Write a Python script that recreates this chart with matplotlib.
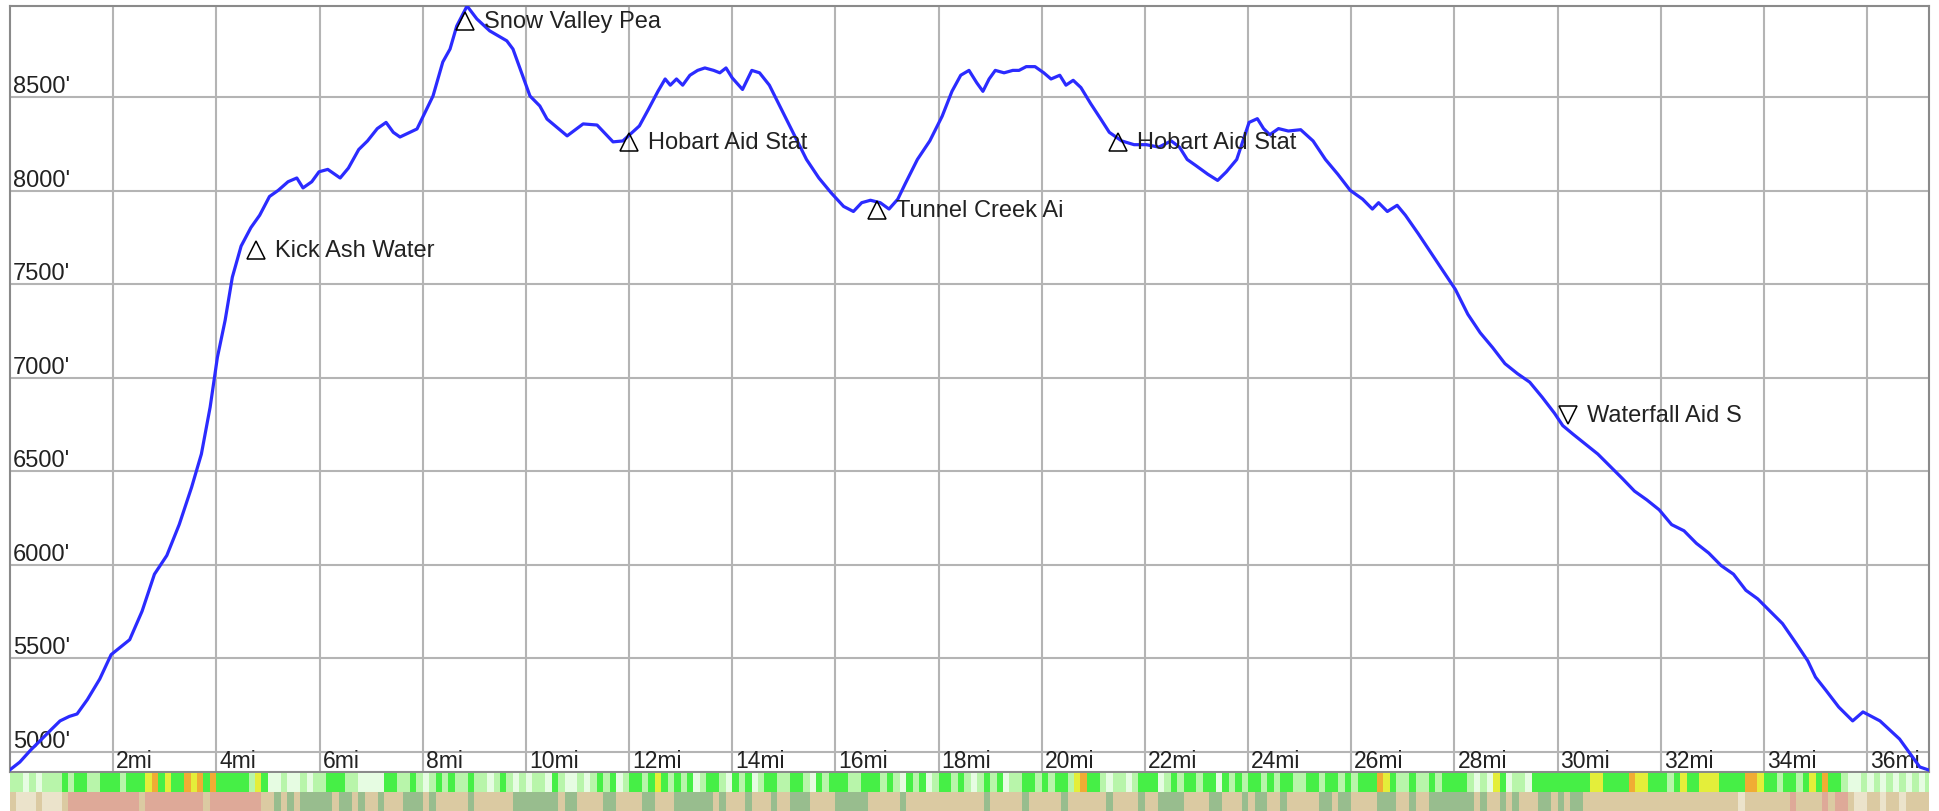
import matplotlib

matplotlib.use("Agg")
import matplotlib.pyplot as plt
from matplotlib.colors import ListedColormap

plt.rcParams["font.family"] = ["Liberation Sans", "DejaVu Sans"]

# elevation profile (miles, feet)
miles = [0.0, 0.19, 0.4, 0.58, 0.8, 0.97, 1.15, 1.3, 1.5, 1.74, 1.96, 2.32, 2.56, 2.8,
         3.04, 3.28, 3.52, 3.71, 3.88, 4.02, 4.17, 4.31, 4.48, 4.67, 4.84, 5.03, 5.2,
         5.39, 5.56, 5.68, 5.85, 5.99, 6.16, 6.4, 6.56, 6.76, 6.93, 7.12, 7.29, 7.43,
         7.56, 7.89, 8.2, 8.39, 8.53, 8.66, 8.86, 9.05, 9.3, 9.63, 9.75, 10.08, 10.27,
         10.41, 10.8, 11.11, 11.38, 11.69, 11.88, 12.2, 12.37, 12.56, 12.7, 12.8, 12.92,
         13.04, 13.18, 13.33, 13.47, 13.64, 13.76, 13.88, 14.0, 14.2, 14.38, 14.53,
         14.72, 14.96, 15.2, 15.44, 15.68, 15.92, 16.16, 16.35, 16.51, 16.68, 16.87,
         17.04, 17.21, 17.35, 17.59, 17.83, 18.07, 18.26, 18.43, 18.59, 18.74, 18.86,
         18.98, 19.1, 19.27, 19.44, 19.56, 19.7, 19.87, 20.04, 20.18, 20.35, 20.47,
         20.61, 20.76, 20.95, 21.14, 21.31, 21.55, 21.79, 22.03, 22.27, 22.51, 22.67,
         22.82, 22.99, 23.22, 23.41, 23.58, 23.78, 23.9, 24.02, 24.18, 24.3, 24.42,
         24.59, 24.78, 25.02, 25.26, 25.5, 25.74, 25.98, 26.22, 26.41, 26.53, 26.7,
         26.89, 27.05, 27.3, 27.54, 27.78, 28.02, 28.26, 28.5, 28.74, 28.98, 29.22,
         29.46, 29.7, 29.94, 30.1, 30.3, 30.54, 30.78, 31.02, 31.26, 31.49, 31.73,
         31.97, 32.21, 32.45, 32.69, 32.93, 33.17, 33.41, 33.65, 33.88, 34.12, 34.36,
         34.61, 34.85, 35.0, 35.2, 35.45, 35.72, 35.92, 36.25, 36.63, 37.02, 37.18]
elevation = [4905, 4946, 5010, 5059, 5120, 5166, 5190, 5203, 5280, 5390, 5520, 5600, 5752,
             5950, 6050, 6215, 6414, 6592, 6843, 7108, 7306, 7537, 7703, 7802, 7868, 7968,
             8001, 8047, 8067, 8014, 8047, 8100, 8113, 8067, 8120, 8219, 8265, 8331, 8364,
             8311, 8286, 8329, 8505, 8687, 8756, 8879, 8986, 8917, 8853, 8800, 8756, 8505,
             8452, 8382, 8292, 8356, 8350, 8260, 8265, 8345, 8431, 8530, 8596, 8563, 8596,
             8563, 8616, 8642, 8655, 8642, 8629, 8655, 8602, 8540, 8642, 8629, 8563, 8431,
             8298, 8166, 8067, 7987, 7915, 7888, 7935, 7948, 7935, 7901, 7954, 8034, 8166,
             8265, 8397, 8530, 8616, 8642, 8576, 8530, 8596, 8642, 8629, 8642, 8642, 8662,
             8662, 8629, 8596, 8616, 8563, 8589, 8550, 8464, 8384, 8311, 8265, 8245, 8245,
             8232, 8265, 8232, 8166, 8133, 8087, 8054, 8100, 8166, 8265, 8364, 8384, 8331,
             8298, 8331, 8318, 8325, 8265, 8166, 8087, 8001, 7954, 7901, 7935, 7888, 7921,
             7868, 7769, 7670, 7570, 7471, 7339, 7240, 7161, 7075, 7022, 6976, 6896, 6810,
             6744, 6698, 6645, 6592, 6526, 6460, 6394, 6347, 6294, 6215, 6182, 6115, 6063,
             5996, 5950, 5864, 5818, 5752, 5686, 5586, 5487, 5400, 5330, 5240, 5166, 5214,
             5166, 5069, 4920, 4905]

# waypoints
wp_names = ["Kick Ash Water", "Snow Valley Pea", "Hobart Aid Stat", "Tunnel Creek Ai",
            "Hobart Aid Stat", "Waterfall Aid S"]
wp_miles = [4.77, 8.82, 12.0, 16.8, 21.48, 30.2]
wp_elev = [7682, 8905, 8260, 7896, 8260, 6800]
wp_marker = ["^", "^", "^", "^", "^", "v"]

x_ticks = list(range(2, 37, 2))
y_ticks = list(range(5000, 8501, 500))

# strips under the chart, one code per eighth of a mile (8 per mile)
grade_codes = ("llplplll" "glggllgg" "glgggyog" "yggoyogo" "ggggglyg" "pplpplpl"
               "lgggllpp" "ppggllgl" "plglgllg" "llplglpl" "pllpglpp" "lplglgpl"
               "gglgyglg" "lgplgglp" "glgplggl" "lgglpglg" "ggllgggl" "glpglgpl"
               "gglglplg" "lgpllggl" "glgglyog" "glpllplg" "ggplglgg" "lggpglgl"
               "gglglggl" "lgglgglg" "lgggoygl" "lgllglgg" "gglplpyg" "pllpgggg"
               "gggggyyg" "gggoyygg" "glgyggyy" "yggggooy" "gglgglgy" "gogglppl"
               "plplplpl" "pl")
surface_codes = ("tccctccc" "trrrrrrr" "rrrrtrrr" "rrrrrrtr" "rrrrrrrt" "tvtvtvvv"
                 "vvtvvtvt" "tvtttvvv" "tvtttttv" "ttttttvv" "vvvvvtvv" "ttttvvtt"
                 "ttvvtttv" "vvvvvtvt" "ttvtttvt" "tvvvtttt" "vvvvvttt" "ttvttttt"
                 "tttttttv" "tttttvtt" "tttvtttt" "ttvttttv" "ttvvvvtt" "ttvvtttv"
                 "tvvttvtt" "tttvvtvv" "ttttvvvt" "tvttvvvv" "vvvtvttv" "tvtttvvt"
                 "vtvvtttt" "tttttttt" "tttttttt" "ttttcttt" "ttttrttt" "trtrrtcc"
                 "ttcttctt" "tt")
seg_len = 0.125

grade_colors = {"p": "#e6fce2", "l": "#b8f5aa", "g": "#46ef46", "y": "#e4ee3a", "o": "#f0ac34"}
surface_colors = {"t": "#dbcaa2", "c": "#ebe3cb", "r": "#dea998", "v": "#98bd8e"}

W, H = 1939, 812
fig = plt.figure(figsize=(W / 100, H / 100), dpi=100)
ax = fig.add_axes([10 / W, 39 / H, 1919 / W, 766 / H])

xmax = 37.2
ax.set_xlim(0, xmax)
ax.set_ylim(4893, 8986)

for x in x_ticks:
    ax.axvline(x, color="#b4b4b4", lw=1.5, zorder=1)
for y in y_ticks:
    ax.axhline(y, color="#b4b4b4", lw=1.5, zorder=1)

ax.plot(miles, elevation, color="#2b2bff", lw=2.3, zorder=3, solid_joinstyle="round")

for x in x_ticks:
    ax.annotate(f"{x}mi", xy=(x, 0), xycoords=("data", "axes fraction"),
                xytext=(3, 5), textcoords="offset pixels", fontsize=16.5,
                color="#222222", va="baseline", ha="left", zorder=2)
for y in y_ticks:
    ax.annotate(f"{y}'", xy=(0, y), xycoords=("axes fraction", "data"),
                xytext=(3, 5), textcoords="offset pixels", fontsize=17,
                color="#222222", va="baseline", ha="left", zorder=2)

for name, m, e, mk in zip(wp_names, wp_miles, wp_elev, wp_marker):
    ax.plot(m, e, marker=mk, markersize=13.5, markerfacecolor="none",
            markeredgecolor="black", markeredgewidth=1.1, zorder=4)
    ax.annotate(name, xy=(m, e), xytext=(19, 0), textcoords="offset pixels",
                fontsize=17, color="#222222", va="center", ha="left", zorder=4)

ax.set_xticks([])
ax.set_yticks([])
for s in ax.spines.values():
    s.set_color("#8a8a8a")
    s.set_linewidth(1.5)


def draw_strip(axis, codes, palette):
    keys = list(palette.keys())
    cmap = ListedColormap([palette[k] for k in keys])
    row = [[keys.index(c) for c in codes]]
    axis.imshow(row, cmap=cmap, vmin=-0.5, vmax=len(keys) - 0.5, aspect="auto",
                extent=(0, len(codes) * seg_len, 0, 1), interpolation="nearest")
    axis.set_xlim(0, xmax)
    axis.set_ylim(0, 1)
    axis.axis("off")


ax_g = fig.add_axes([10 / W, 19 / H, 1919 / W, 19 / H])
draw_strip(ax_g, grade_codes, grade_colors)
ax_s = fig.add_axes([10 / W, 0, 1919 / W, 19 / H])
draw_strip(ax_s, surface_codes, surface_colors)

fig.savefig("out.png", dpi=100)
